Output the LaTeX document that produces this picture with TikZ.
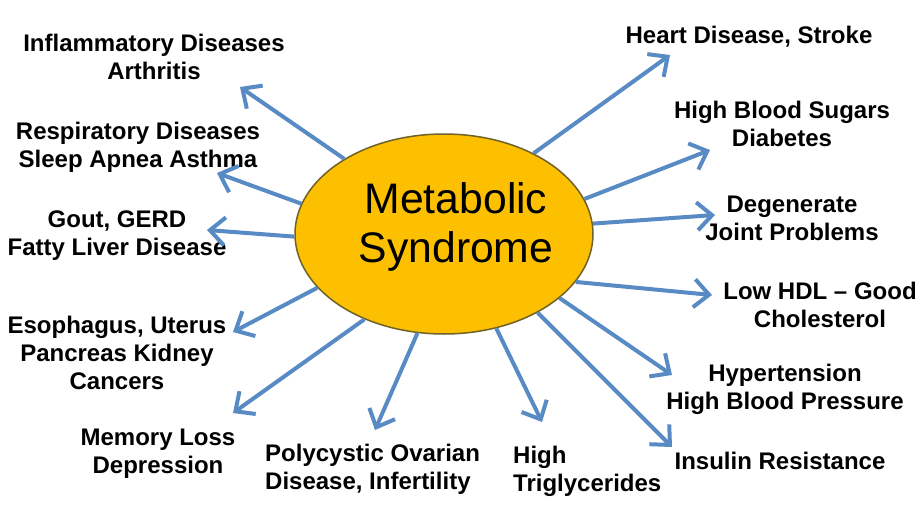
\documentclass[tikz,border=0pt]{standalone}
\usepackage{fontspec}
\setmainfont{Liberation Sans}
\usetikzlibrary{arrows.meta, shapes.geometric, positioning}
\definecolor{msgold}{RGB}{252,192,0}
\definecolor{msedge}{RGB}{110,98,40}
\definecolor{msblue}{RGB}{88,138,196}

\begin{document}
\begin{tikzpicture}[
    x=1pt, y=-1pt,
    every node/.style={inner sep=0pt},
    lbl/.style={font=\bfseries\fontsize{24}{28}\selectfont, align=center, anchor=north},
    lblL/.style={lbl, align=left, anchor=north west},
    hub/.style={ellipse, draw=msedge, line width=1.5pt, fill=msgold, minimum width=298pt, minimum height=200pt},
    arr/.style={-{Straight Barb[length=15pt, width=28pt]}, line width=4pt, msblue},
  ]
  \useasboundingbox (0,0) rectangle (924,519);
  % --- centre
  \node[hub] (ms) at (444,234) {};
  \node[font=\fontsize{42.7}{49}\selectfont, align=center, anchor=north] (mstext) at (456,182) {Metabolic\\Syndrome};
  % --- left side
  \node[lbl] (infl)  at (154,34)  {Inflammatory Diseases\\Arthritis};
  \node[lbl] (resp)  at (138,122) {Respiratory Diseases\\Sleep Apnea Asthma};
  \node[lbl] (gout)  at (117,211) {Gout, GERD\\Fatty Liver Disease};
  \node[lbl] (canc)  at (117,316) {Esophagus, Uterus\\Pancreas Kidney\\Cancers};
  \node[lbl] (mem)   at (158,429) {Memory Loss\\Depression};
  % --- bottom
  \node[lblL] (pcos) at (265,444) {Polycystic Ovarian\\Disease, Infertility};
  \node[lblL] (trig) at (513,446) {High\\Triglycerides};
  % --- right side
  \node[lbl] (ins)   at (780,452) {Insulin Resistance};
  \node[lbl] (hyp)   at (785,364) {Hypertension\\High Blood Pressure};
  \node[lbl] (hdl)   at (820,282) {Low HDL -- Good\\Cholesterol};
  \node[lbl] (joint) at (792,196) {Degenerate\\Joint Problems};
  \node[lbl] (diab)  at (782,101) {High Blood Sugars\\Diabetes};
  \node[lbl] (heart) at (749,26)  {Heart Disease, Stroke};
  % --- arrow tips
  \coordinate (tInfl)  at (240,87);
  \coordinate (tResp)  at (217,173);
  \coordinate (tGout)  at (207,230);
  \coordinate (tCanc)  at (233,332);
  \coordinate (tMem)   at (233,413);
  \coordinate (tPcos)  at (375,430);
  \coordinate (tTrig)  at (542,422);
  \coordinate (tIns)   at (672,447);
  \coordinate (tHyp)   at (672,375);
  \coordinate (tHdl)   at (712,295);
  \coordinate (tJoint) at (715,215);
  \coordinate (tDiab)  at (710,150);
  \coordinate (tHeart) at (670,55);
  % --- arrows
  \draw[arr] (ms.143.5) -- (tInfl);
  \draw[arr] (ms.168.8) -- (tResp);
  \draw[arr] (ms.181.5) -- (tGout);
  \draw[arr] (ms.203.5) -- (tCanc);
  \draw[arr] (ms.227.7) -- (tMem);
  \draw[arr] (ms.255.3) -- (tPcos);
  \draw[arr] (ms.299.4) -- (tTrig);
  \draw[arr] (ms.320.5) -- (tIns);
  \draw[arr] (ms.331.7) -- (tHyp);
  \draw[arr] (ms.340.9) -- (tHdl);
  \draw[arr] (ms.4.6)   -- (tJoint);
  \draw[arr] (ms.14.3)  -- (tDiab);
  \draw[arr] (ms.42.8)  -- (tHeart);
\end{tikzpicture}
\end{document}
